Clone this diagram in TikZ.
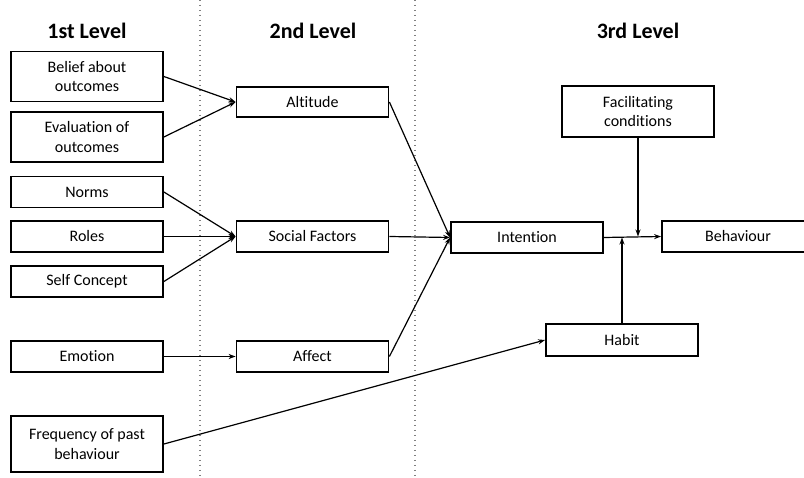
\documentclass[tikz,border=0pt]{standalone}
\usepackage{fontspec}
\setmainfont{Carlito}[Ligatures=NoCommon]
\usetikzlibrary{arrows.meta}

\begin{document}
\begin{tikzpicture}
[
	x=1pt,
	y=-1pt,
	box/.style={draw,line width=1.8pt,minimum width=152pt,minimum height=31pt,inner sep=2pt,align=center,font=\fontsize{16}{19.5}\selectfont},
	tallbox/.style={box,minimum height=50pt},
	level/.style={font=\fontsize{22}{26}\selectfont\bfseries},
	link/.style={-{Stealth[length=7pt,width=5pt]},line width=1.2pt},
	divider/.style={gray,line width=1.2pt,dash pattern=on 1.4pt off 3.6pt}
]

	\useasboundingbox (0,0) rectangle (804,478);

	% dividers between the levels
	\draw[divider] (200,0) -- (200,478);
	\draw[divider] (415,0) -- (415,478);

	% headings
	\node[level] (lvlone) at (87,31) {1st Level};
	\node[level] (lvltwo) at (313,31) {2nd Level};
	\node[level] (lvlthree) at (638,31) {3rd Level};

	% 1st level
	\node[tallbox] (belief) at (87,76.5) {Belief about\\outcomes};
	\node[tallbox] (evaluation) at (87,137) {Evaluation of\\outcomes};
	\node[box] (norms) at (87,192) {Norms};
	\node[box] (roles) at (87,236.5) {Roles};
	\node[box] (selfconcept) at (87,281.5) {Self Concept};
	\node[box] (emotion) at (87,356.5) {Emotion};
	\node[tallbox,minimum height=56pt] (frequency) at (87,444) {Frequency of past\\behaviour};

	% 2nd level
	\node[box,minimum height=30pt] (altitude) at (312.5,102) {Altitude};
	\node[box] (social) at (312.5,236.5) {Social Factors};
	\node[box] (affect) at (312.5,356.5) {Affect};

	% 3rd level
	\node[box] (intention) at (527,237.5) {Intention};
	\node[tallbox,minimum height=51pt] (facilitating) at (638,111.5) {Facilitating\\conditions};
	\node[box] (behaviour) at (738,236.5) {Behaviour};
	\node[box,minimum height=32pt] (habit) at (622,340) {Habit};

	% links
	\draw[link] (belief.east) -- (altitude.west);
	\draw[link] (evaluation.east) -- (altitude.west);
	\foreach \src in {norms,roles,selfconcept}
	  \draw[link] (\src.east) -- (social.west);
	\draw[link] (emotion.east) -- (affect.west);
	\draw[link] (frequency.east) -- (habit.west);

	\foreach \src in {altitude,social,affect}
	  \draw[link] (\src.east) -- (intention.west);

	\draw[link] (intention.east) -- (behaviour.west);
	\draw[link] (facilitating.south) -- (facilitating.south |- behaviour.west);
	\draw[link] (habit.north) -- (habit.north |- intention.east);

\end{tikzpicture}
\end{document}
